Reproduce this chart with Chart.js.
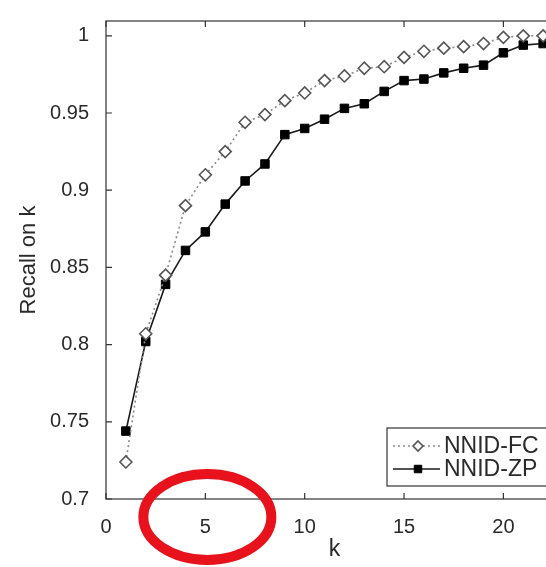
<!DOCTYPE html>
<html>
<head>
<meta charset="utf-8">
<script src="https://cdn.jsdelivr.net/npm/chart.js@4.4.1/dist/chart.umd.min.js"></script>
<style>
  html, body {
    margin: 0;
    padding: 0;
    background: #fff;
    overflow: hidden;
  }
  #wrap {
    width: 546px;
    height: 567px;
    overflow: hidden;
  }
</style>
</head>
<body>
<div id="wrap">
  <canvas id="grafica" width="580" height="567"></canvas>
</div>
<script>
// valores
const kValues = [1, 2, 3, 4, 5, 6, 7, 8, 9, 10, 11, 12, 13, 14, 15, 16, 17, 18, 19, 20, 21, 22];
const recallFC = [0.724, 0.807, 0.845, 0.890, 0.910, 0.925, 0.944, 0.949, 0.958, 0.963, 0.971,
  0.974, 0.979, 0.980, 0.986, 0.990, 0.992, 0.993, 0.995, 0.999, 1.000, 1.000];
const recallZP = [0.744, 0.802, 0.839, 0.861, 0.873, 0.891, 0.906, 0.917, 0.936, 0.940, 0.946,
  0.953, 0.956, 0.964, 0.971, 0.972, 0.976, 0.979, 0.981, 0.989, 0.994, 0.995];
const xTickValues = [0, 5, 10, 15, 20];
const yTickValues = [0.7, 0.75, 0.8, 0.85, 0.9, 0.95, 1];
const yTickLabels = ['0.7', '0.75', '0.8', '0.85', '0.9', '0.95', '1'];
const seriesNames = ['NNID-FC', 'NNID-ZP'];

const fuente = '"Liberation Sans", Arial, Helvetica, sans-serif';
const colorTexto = '#2a2a2a';

// marco y ticks hacia dentro, estilo matlab
const marcoPlugin = {
  id: 'marco',
  afterDatasetsDraw(chart) {
    const { ctx, chartArea: a, scales } = chart;
    ctx.save();
    ctx.strokeStyle = '#333';
    ctx.lineWidth = 1.2;
    ctx.strokeRect(a.left, a.top, a.right - a.left, a.bottom - a.top);
    const largo = 6;
    ctx.beginPath();
    for (let t of scales.x.ticks) {
      let px = scales.x.getPixelForValue(t.value);
      ctx.moveTo(px, a.bottom); ctx.lineTo(px, a.bottom - largo);
      ctx.moveTo(px, a.top); ctx.lineTo(px, a.top + largo);
    }
    for (let t of scales.y.ticks) {
      let py = scales.y.getPixelForValue(t.value);
      ctx.moveTo(a.left, py); ctx.lineTo(a.left + largo, py);
      ctx.moveTo(a.right, py); ctx.lineTo(a.right - largo, py);
    }
    ctx.stroke();
    ctx.restore();
  }
};

// leyenda dentro del area, abajo a la derecha
const leyendaPlugin = {
  id: 'leyendaMatlab',
  afterDatasetsDraw(chart) {
    const { ctx, chartArea: a } = chart;
    const w = 171, h = 58;
    const x0 = a.right - w - 5, y0 = a.bottom - h - 13;
    ctx.save();
    ctx.fillStyle = '#fff';
    ctx.fillRect(x0, y0, w, h);
    ctx.strokeStyle = '#333';
    ctx.lineWidth = 1.2;
    ctx.strokeRect(x0, y0, w, h);
    chart.data.datasets.forEach((ds, i) => {
      let y = y0 + 18 + i * 23;
      ctx.beginPath();
      ctx.setLineDash(ds.borderDash || []);
      ctx.strokeStyle = ds.borderColor;
      ctx.lineWidth = ds.borderWidth;
      ctx.moveTo(x0 + 6, y);
      ctx.lineTo(x0 + 53, y);
      ctx.stroke();
      ctx.setLineDash([]);
      ctx.fillStyle = ds.pointBackgroundColor;
      ctx.strokeStyle = ds.pointBorderColor;
      ctx.lineWidth = ds.pointBorderWidth;
      ctx.beginPath();
      let r = ds.pointRadius - 1;
      if (ds.pointStyle === 'rectRot') {
        ctx.moveTo(x0 + 31, y - r); ctx.lineTo(x0 + 31 + r, y);
        ctx.lineTo(x0 + 31, y + r); ctx.lineTo(x0 + 31 - r, y);
      } else {
        ctx.rect(x0 + 31 - r * 0.75, y - r * 0.75, r * 1.5, r * 1.5);
      }
      ctx.closePath();
      ctx.fill();
      ctx.stroke();
      ctx.fillStyle = colorTexto;
      ctx.font = '23px ' + fuente;
      ctx.textBaseline = 'middle';
      ctx.textAlign = 'left';
      ctx.fillText(ds.label, x0 + 57, y + 1);
    });
    ctx.restore();
  }
};

// circulo rojo marcado a mano alrededor del 5
const elipsePlugin = {
  id: 'elipse',
  afterDraw(chart) {
    const { ctx, chartArea: a, scales } = chart;
    let cx = scales.x.getPixelForValue(5) + 2;
    let cy = a.bottom + 18;
    ctx.save();
    ctx.strokeStyle = 'rgb(232, 18, 28)';
    ctx.lineWidth = 10;
    ctx.beginPath();
    ctx.ellipse(cx, cy, 64, 43, 0, 0, Math.PI * 2);
    ctx.stroke();
    ctx.restore();
  }
};

function puntos(valores) {
  return kValues.map((k, i) => ({ x: k, y: valores[i] }));
}

let ctx = document.getElementById('grafica').getContext('2d');
new Chart(ctx, {
  type: 'line',
  data: {
    datasets: [{
      label: seriesNames[0],
      data: puntos(recallFC),
      borderColor: '#8a8a8a',
      borderWidth: 1.6,
      borderDash: [2, 3],
      pointStyle: 'rectRot',
      pointRadius: 6,
      pointBackgroundColor: '#fff',
      pointBorderColor: '#555',
      pointBorderWidth: 1.6,
      fill: false,
      tension: 0
    }, {
      label: seriesNames[1],
      data: puntos(recallZP),
      borderColor: '#1a1a1a',
      borderWidth: 1.6,
      pointStyle: 'rect',
      pointRadius: 6,
      pointBackgroundColor: '#000',
      pointBorderColor: '#000',
      pointBorderWidth: 1,
      fill: false,
      tension: 0
    }]
  },
  options: {
    responsive: false,
    animation: false,
    devicePixelRatio: 1,
    layout: { padding: { left: 0, top: 12, right: 17, bottom: 0 } },
    plugins: {
      legend: { display: false },
      tooltip: { enabled: false }
    },
    scales: {
      x: {
        type: 'linear',
        min: 0,
        max: 23,
        afterBuildTicks: (scale) => { scale.ticks = xTickValues.map(v => ({ value: v })); },
        afterFit: (scale) => { scale.height = 68; },
        grid: { display: false },
        border: { display: false },
        ticks: {
          color: colorTexto,
          font: { family: fuente, size: 20 },
          padding: 8,
          maxRotation: 0
        },
        title: {
          display: true,
          text: 'k',
          color: colorTexto,
          font: { family: fuente, size: 23 },
          padding: { top: 0 }
        }
      },
      y: {
        min: 0.7,
        max: 1.0096,
        afterBuildTicks: (scale) => { scale.ticks = yTickValues.map(v => ({ value: v })); },
        afterFit: (scale) => { scale.width = 106; },
        grid: { display: false },
        border: { display: false },
        ticks: {
          color: colorTexto,
          font: { family: fuente, size: 20 },
          padding: 9,
          callback: (value) => {
            let i = yTickValues.findIndex(v => Math.abs(v - value) < 1e-6);
            return i >= 0 ? yTickLabels[i] : '';
          }
        },
        title: {
          display: true,
          text: 'Recall on k',
          color: colorTexto,
          font: { family: fuente, size: 22 },
          padding: { top: 16, bottom: 0 }
        }
      }
    }
  },
  plugins: [marcoPlugin, leyendaPlugin, elipsePlugin]
});
</script>
</body>
</html>
